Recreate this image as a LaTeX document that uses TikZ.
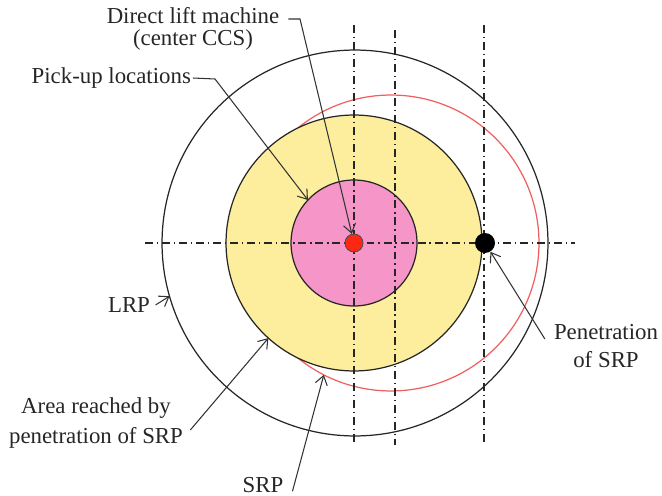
\documentclass[tikz,border=0pt]{standalone}
\usepackage{fontspec}
\setmainfont{Liberation Serif}
\usetikzlibrary{arrows.meta}

\definecolor{areayellow}{RGB}{253,238,158}
\definecolor{pickpink}{RGB}{246,150,200}
\definecolor{ccsred}{RGB}{252,40,20}
\definecolor{srpred}{RGB}{240,95,95}

\begin{document}
\begin{tikzpicture}[x=0.02cm,y=-0.02cm,
  ring/.style={circle,draw=black!85,line width=0.7pt,inner sep=0pt,outer sep=0pt},
  axis/.style={black!85,line width=0.7pt,dash pattern=on 4.5pt off 2.2pt on 0.8pt off 2.2pt},
  leader/.style={black!80,line width=0.6pt,-{Straight Barb[length=5pt,width=7pt]}},
  label/.style={font=\fontsize{13}{12.5}\selectfont,text=black!85,inner sep=1pt,align=center}]
\useasboundingbox (0,0) rectangle (662,496);

% centre of the crane circles
\pgfmathsetmacro{\xc}{354}
\pgfmathsetmacro{\yc}{243}

% reach circles
\node[ring,minimum size=7.72cm] (lrp) at (\xc+1,\yc) {};
\node[ring,draw=srpred,minimum size=5.92cm] (srp) at (\xc+37,\yc) {};
\node[ring,fill=areayellow,minimum size=5.12cm] (area) at (\xc,\yc) {};
\node[ring,fill=pickpink,minimum size=2.52cm] (pick) at (\xc,\yc) {};

% dash-dot axes
\foreach \xa/\ya in {354/25, 395/30, 484/25}
  \draw[axis] (\xa,\ya) -- (\xa,445);
\draw[axis] (145,\yc) -- (575,\yc);

% machine and penetration points
\node[circle,fill=ccsred,draw=black!70,line width=0.5pt,minimum size=0.36cm,inner sep=0pt] (ccs) at (\xc,\yc) {};
\node[circle,fill=black,minimum size=0.4cm,inner sep=0pt] (pen) at (485,\yc) {};

% labels
\node[label] (dlmtxt) at (193,29) {Direct lift machine\\(center CCS)};
\node[label,anchor=east] (pultxt) at (193,78) {Pick-up locations};
\node[label] (lrptxt) at (129,305) {LRP};
\node[label] (areatxt) at (96,423) {Area reached by\\[4.5pt]penetration of SRP};
\node[label] (srptxt) at (263,485) {SRP};
\node[label] (pentxt) at (606,346) {Penetration\\[3pt]of SRP};

\coordinate (dlmbend) at (300,19);
\coordinate (pulbend) at (215,79);

% leaders
\draw[leader] ([xshift=4pt]dlmbend -| dlmtxt.east) -- (dlmbend) -- (ccs);
\draw[leader] (pultxt.east) -- (pulbend) -- (pick.137);
\draw[leader] ([xshift=2pt]lrptxt.east) -- (lrp.196);
\draw[leader] ([xshift=3pt,yshift=-4pt]areatxt.east) -- (area.228);
\draw[leader] ([xshift=4pt,yshift=2pt]srptxt.south east) -- (srp.243);
\draw[leader] ([xshift=-4pt,yshift=4pt]pentxt.west) -- (pen);

\end{tikzpicture}
\end{document}
